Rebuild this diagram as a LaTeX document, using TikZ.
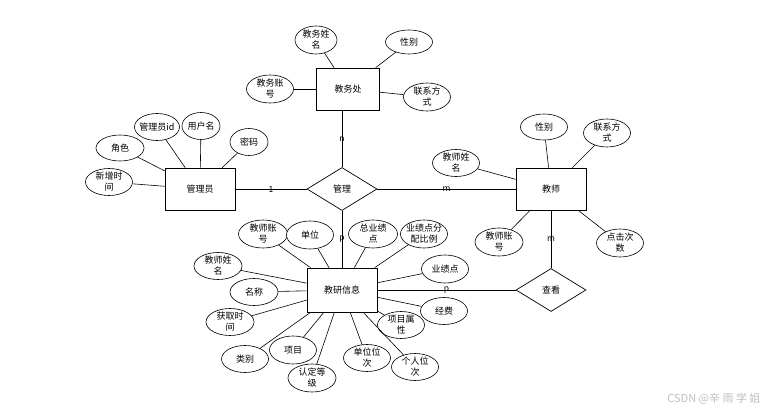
\documentclass[tikz,border=0pt]{standalone}
\usepackage{fontspec}
\setmainfont{Noto Sans CJK SC}
\usetikzlibrary{shapes.geometric, positioning}

\begin{document}
\begin{tikzpicture}[
    x=1pt, y=-1pt,
    every node/.style={font=\fontsize{9}{11}\selectfont},
    entity/.style={rectangle, minimum width=70pt, minimum height=42pt,
                   draw=black, fill=white, line width=0.7pt},
    attr/.style={ellipse, minimum width=47pt, minimum height=27pt, inner sep=-3pt,
                 align=center, draw=black, fill=white, line width=0.6pt},
    relation/.style={diamond, minimum width=70pt, minimum height=43pt, inner sep=0pt,
                     draw=black, fill=white, line width=0.7pt},
    link/.style={line width=0.6pt},
    card/.style={font=\fontsize{8.5}{9}\selectfont, inner sep=1pt}
]
\useasboundingbox (0,0) rectangle (770,414);

\node (office) [entity, minimum width=63pt] at (348,89) {教务处};
\node (admin) [entity] at (200,189) {管理员};
\node (manage) [relation] at (342,189) {管理};
\node (teacher) [entity] at (551,189) {教师};
\node (research) [entity, minimum height=44pt] at (342,290) {教研信息};
\node (view) [relation] at (551,290) {查看};

\node (oname) [attr, minimum width=42pt, minimum height=28pt] at (316,40) {教务姓\\名};
\node (osex) [attr, minimum height=24pt] at (409,42) {性别};
\node (oacc) [attr, minimum height=28pt] at (270,89) {教务账\\号};
\node (otel) [attr, minimum height=28pt] at (427,97) {联系方\\式};

\node (adminid) [attr, minimum width=45pt] at (157,127) {管理员id};
\node (uname) [attr, minimum width=38pt] at (201,126) {用户名};
\node (pwd) [attr, minimum width=38pt] at (249,142) {密码};
\node (role) [attr, minimum width=48pt, minimum height=26pt] at (120,148) {角色};
\node (addtime) [attr] at (109,182) {新增时\\间};

\node (tsex) [attr, minimum height=26pt] at (544,127) {性别};
\node (ttel) [attr, minimum height=28pt] at (607,133) {联系方\\式};
\node (tname) [attr] at (456,163) {教师姓\\名};
\node (tacc) [attr, minimum width=48pt, minimum height=28pt] at (499,242) {教师账\\号};
\node (clicks) [attr, minimum height=28pt] at (620,243) {点击次\\数};

\node (racc) [attr, minimum width=49pt, minimum height=28pt] at (263,234) {教师账\\号};
\node (unit) [attr, minimum height=28pt] at (310,235) {单位};
\node (total) [attr, minimum width=49pt, minimum height=28pt] at (373,234) {总业绩\\点};
\node (ratio) [attr, minimum height=28pt] at (424,234) {业绩点分\\配比例};
\node (rname) [attr, minimum width=48pt] at (218,266) {教师姓\\名};
\node (title) [attr, minimum width=48pt] at (254,292) {名称};
\node (gettime) [attr, minimum width=48pt] at (230,322) {获取时\\间};
\node (kind) [attr] at (245,359) {类别};
\node (project) [attr, minimum height=28pt] at (293,350) {项目};
\node (level) [attr, minimum width=48pt, minimum height=28pt] at (312,378) {认定等\\级};
\node (unitrank) [attr] at (367,358) {单位位\\次};
\node (selfrank) [attr] at (415,367) {个人位\\次};
\node (fund) [attr] at (444,311) {经费};
\node (prop) [attr] at (401,325) {项目属\\性};
\node (points) [attr, minimum height=28pt] at (445,269) {业绩点};

\node (mark) [text=gray!50, font=\fontsize{11}{13}\selectfont, anchor=east] at (764,399) {CSDN @辛 雨 学 姐};

\draw [link] (manage.north |- office.south) -- node[card] {n} (manage.north);
\draw [link] (admin) -- node[card] {1} (manage);
\draw [link] (manage) -- node[card] {m} (teacher);
\draw [link] (manage) -- node[card] {p} (research);
\draw [link] (teacher) -- node[card] {m} (view);
\draw [link] (research) -- node[card] {p} (view);

\draw [link] (office) -- (oname);
\draw [link] (office) -- (osex);
\draw [link] (office) -- (oacc);
\draw [link] (office) -- (otel);

\draw [link] (admin) -- (adminid);
\draw [link] (admin) -- (uname);
\draw [link] (admin) -- (pwd);
\draw [link] (admin) -- (role);
\draw [link] (admin) -- (addtime);

\draw [link] (teacher) -- (tsex);
\draw [link] (teacher) -- (ttel);
\draw [link] (teacher) -- (tname);
\draw [link] (teacher) -- (tacc);
\draw [link] (teacher) -- (clicks);

\draw [link] (research) -- (racc);
\draw [link] (research) -- (unit);
\draw [link] (research) -- (total);
\draw [link] (research) -- (ratio);
\draw [link] (research) -- (rname);
\draw [link] (research) -- (title);
\draw [link] (research) -- (gettime);
\draw [link] (research) -- (kind);
\draw [link] (research) -- (project);
\draw [link] (research) -- (level);
\draw [link] (research) -- (unitrank);
\draw [link] (research) -- (selfrank);
\draw [link] (research) -- (prop);
\draw [link] (research) -- (fund);
\draw [link] (research) -- (points);

\end{tikzpicture}
\end{document}
